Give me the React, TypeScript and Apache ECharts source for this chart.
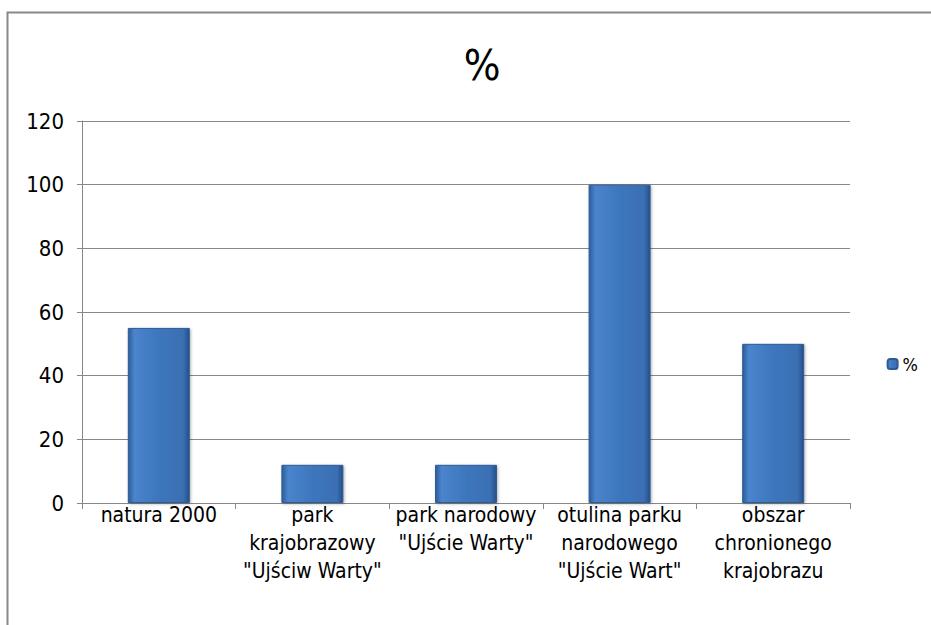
import React, { useEffect, useRef } from "react";
import * as echarts from "echarts";

const categories = [
  "natura 2000",
  "park\nkrajobrazowy\n\"Ujściw Warty\"",
  "park narodowy\n\"Ujście Warty\"",
  "otulina parku\nnarodowego\n\"Ujście Wart\"",
  "obszar\nchronionego\nkrajobrazu",
];
const values = [55, 12, 12, 100, 50];
const seriesName = "%";
const titleText = "%";

export default function App() {
  const ref = useRef<HTMLDivElement>(null);
  useEffect(() => {
    if (!ref.current) return;
    const chart = echarts.init(ref.current, undefined, { renderer: "svg" });
    const font = "'DejaVu Sans Condensed', 'Liberation Sans Narrow', sans-serif";
    chart.setOption({
      animation: false,
      backgroundColor: "#ffffff",
      title: {
        text: titleText,
        left: 477,
        top: 38,
        textAlign: "center",
        textStyle: { fontFamily: font, fontSize: 43, fontWeight: "normal", color: "#000" },
      },
      legend: {
        right: 8,
        top: 350,
        itemWidth: 10,
        itemHeight: 10,
        itemGap: 4,
        textStyle: { fontFamily: font, fontSize: 18, color: "#000", padding: [0, 0, 0, 0] },
        data: [seriesName],
      },
      grid: { left: 82, right: 81, top: 121, bottom: 122 },
      xAxis: {
        type: "category",
        data: categories,
        axisLine: { lineStyle: { color: "#888", width: 1 } },
        axisTick: { show: true, length: 6, lineStyle: { color: "#888" } },
        axisLabel: {
          fontFamily: font,
          fontSize: 21,
          color: "#000",
          lineHeight: 28,
          margin: -2,
          interval: 0,
        },
      },
      yAxis: {
        type: "value",
        min: 0,
        max: 120,
        interval: 20,
        axisLine: { show: true, lineStyle: { color: "#888", width: 1 } },
        axisTick: { show: true, length: 5, lineStyle: { color: "#888" } },
        splitLine: { lineStyle: { color: "#888", width: 1 } },
        axisLabel: { fontFamily: font, fontSize: 22, color: "#000", margin: 18 },
      },
      series: [
        {
          name: seriesName,
          type: "bar",
          data: values,
          barWidth: 62,
          itemStyle: {
            color: new echarts.graphic.LinearGradient(0, 0, 1, 0, [
              { offset: 0, color: "#2c5c9a" },
              { offset: 0.1, color: "#4a84cc" },
              { offset: 0.5, color: "#3e76bd" },
              { offset: 0.9, color: "#3a6fb3" },
              { offset: 1, color: "#264f86" },
            ]),
            borderColor: "#2f5b93",
            borderWidth: 1,
            shadowColor: "rgba(0,0,0,0.3)",
            shadowBlur: 3,
            shadowOffsetX: 1,
            shadowOffsetY: 1,
          },
        },
      ],
      graphic: [
        {
          type: "rect",
          left: 5,
          top: 10,
          shape: { width: 940, height: 640 },
          style: { fill: "none", stroke: "#888", lineWidth: 2 },
          silent: true,
        },
      ],
    });
    return () => chart.dispose();
  }, []);
  return (
    <div
      ref={ref}
      style={{ position: "fixed", left: 0, top: 0, width: 931, height: 625 }}
    />
  );
}
